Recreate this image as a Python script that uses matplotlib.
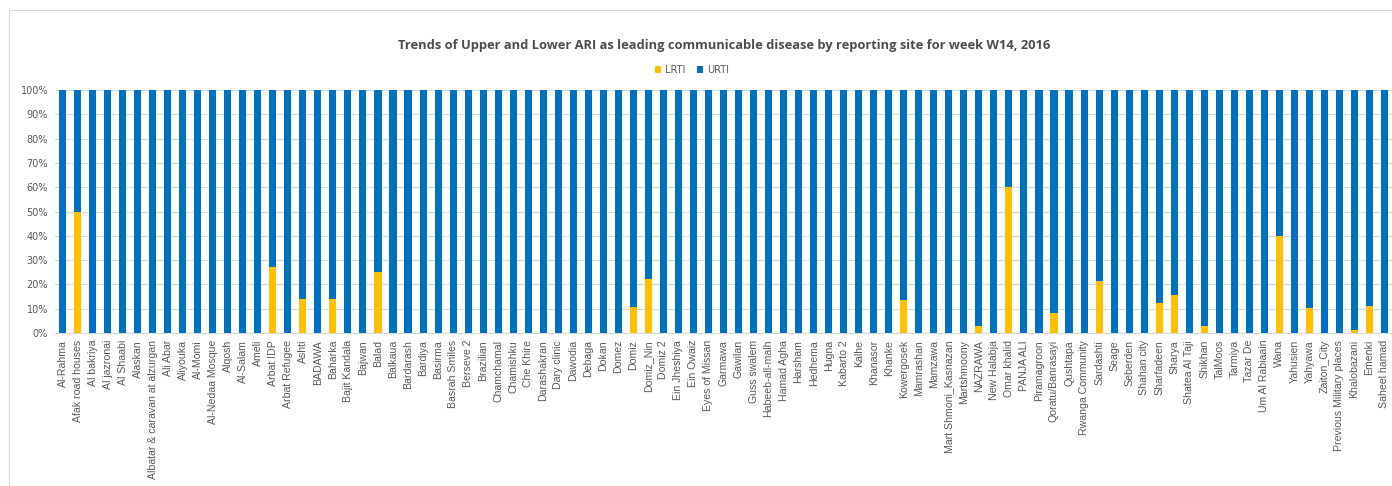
import numpy as np
import matplotlib.pyplot as plt
from matplotlib.patches import Rectangle

# reporting sites, in chart order
sites = [
    "Al-Rahma", "Afak road houses", "Al bakriya", "Al jazronai", "Al Shaabi",
    "Alaskan", "Albatar & caravan at alzurgan", "Ali Abar", "Aliyouka", "Al-Momi",
    "Al-Nedaa Mosque", "Alqosh", "Al-Salam", "Ameli", "Arbat IDP",
    "Arbat Refugee", "Ashti", "BADAWA", "Baharka", "Bajit Kandala",
    "Bajwan", "Balad", "Balkaua", "Bardarash", "Bardiya",
    "Basirma", "Basrah Smiles", "Berseve 2", "Brazilian", "Chamchamal",
    "Chamishku", "Che Khire", "Darashakran", "Dary clinic", "Dawodia",
    "Debaga", "Dokan", "Domez", "Domiz", "Domiz_Nin",
    "Domiz 2", "Ein Jheshiya", "Ein Owaiz", "Eyes of Missan", "Garmawa",
    "Gawilan", "Guss swalem", "Habeeb-all-malh", "Hamad Agha", "Harsham",
    "Hedhema", "Hugna", "Kabarto 2", "Kalhe", "Khanasor",
    "Khanke", "Kowergosek", "Mamrashan", "Mamzawa", "Mart Shmoni_Kasnazan",
    "Martshmoony", "NAZRAWA", "New Halabja", "Omar khalid", "PANJA ALI",
    "Piramagroon", "Qoratu/Banrasayi", "Qushtapa", "Rwanga Community", "Sardashti",
    "Seage", "Seberden", "Shahan city", "Sharfadeen", "Sharya",
    "Shatea Al Taji", "Shikhan", "TalMoos", "Tarmiya", "Tazar De",
    "Um Al Rabiaain", "Wana", "Yahusien", "Yahyawa", "Zaiton_City",
    "Previous Military places", "Khalobazani", "Emenki", "Saheel hamad",
]

# LRTI share (%) where non-zero; all other sites are 100% URTI
lrti_nonzero = {
    "Afak road houses": 50, "Arbat IDP": 27, "Ashti": 14, "Baharka": 14,
    "Balad": 25, "Domiz": 10.5, "Domiz_Nin": 22.2, "Kowergosek": 13.6,
    "NAZRAWA": 3, "Omar khalid": 60, "Qoratu/Banrasayi": 8.3, "Sardashti": 21.4,
    "Sharfadeen": 12.4, "Sharya": 15.7, "Shikhan": 3, "Wana": 40,
    "Yahyawa": 10.4, "Khalobazani": 1.4, "Emenki": 11.3,
}

lrti = np.array([lrti_nonzero.get(s, 0) for s in sites], dtype=float)
urti = 100 - lrti

LRTI_COLOR = "#FFC000"
URTI_COLOR = "#0070C0"
TEXT_COLOR = "#595959"

fig = plt.figure(figsize=(13.92, 4.86), dpi=100)
ax = fig.add_axes([55 / 1392, 1 - 333 / 486, (1392 - 55) / 1392, (333 - 90) / 486])

# light chart frame like the Excel chart area (cut off at right and bottom)
fig.patches.append(Rectangle((9 / 1392, -0.1), 1.0, 1.1 - 10 / 486,
                             transform=fig.transFigure, fill=False,
                             edgecolor="#d9d9d9", linewidth=0.8))

x = np.arange(len(sites))
ax.bar(x, lrti, width=0.47, color=LRTI_COLOR, label="LRTI", zorder=3)
ax.bar(x, urti, width=0.47, bottom=lrti, color=URTI_COLOR, label="URTI", zorder=3)

ax.set_xlim(-0.5, len(sites) - 0.5)
ax.set_ylim(0, 100)
ax.set_yticks(np.arange(0, 101, 10))
ax.set_yticklabels([f"{v}%" for v in range(0, 101, 10)], fontsize=7, color=TEXT_COLOR)
ax.set_xticks(x)
ax.set_xticklabels(sites, rotation=90, fontsize=7.6, color=TEXT_COLOR,
                   family="Liberation Sans")
ax.tick_params(axis="both", length=0, pad=5)
ax.grid(axis="y", color="#d9d9d9", linewidth=0.8, zorder=0)
for side in ["top", "right", "left"]:
    ax.spines[side].set_visible(False)
ax.spines["bottom"].set_color("#d9d9d9")

fig.text(724 / 1392, 1 - 46 / 486, "Trends of Upper and Lower ARI as leading communicable disease by reporting site for week W14, 2016",
         ha="center", va="center", fontsize=9.3, fontweight="bold", color="#4d4d4d",
         family="Open Sans")

ax.legend(loc="center", bbox_to_anchor=(692 / 1392, 1 - 70 / 486),
          bbox_transform=fig.transFigure, ncol=2, frameon=False, fontsize=7,
          handlelength=0.6, handleheight=0.6, handletextpad=0.4, columnspacing=1.2,
          labelcolor=TEXT_COLOR)

plt.savefig("out.png", dpi=100)
plt.close()
